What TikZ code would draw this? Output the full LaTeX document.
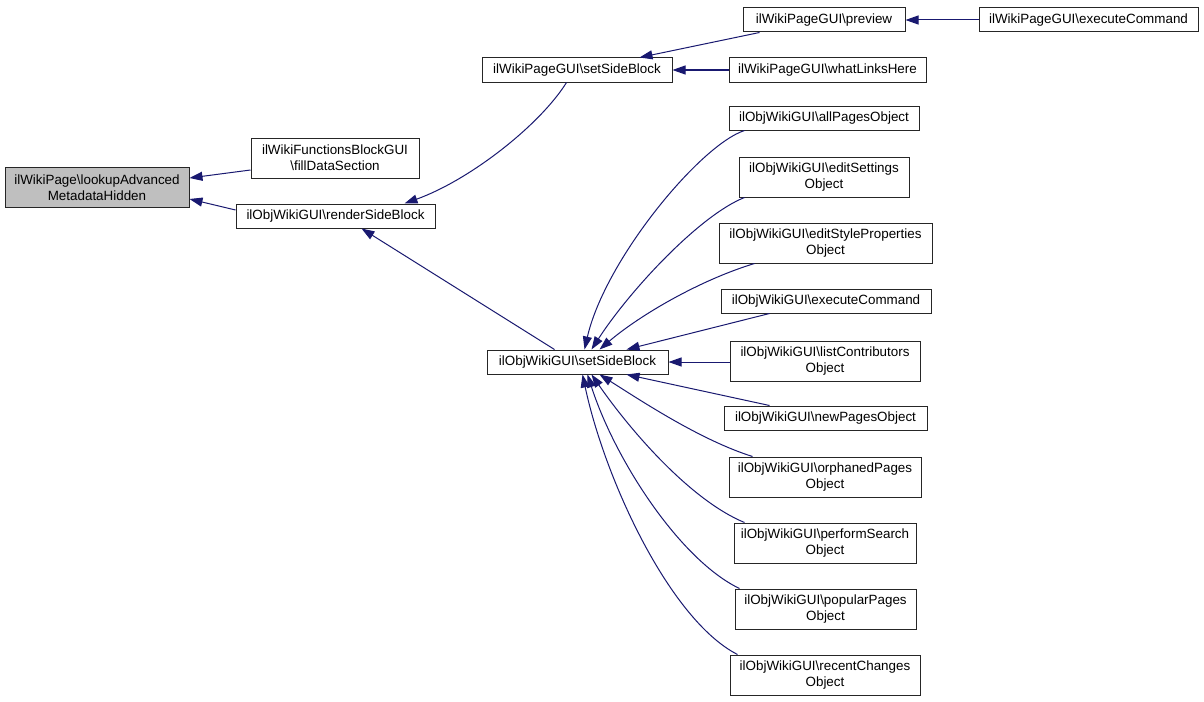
\documentclass[tikz,border=0pt]{standalone}
\usepackage{fontspec}
\setmainfont{Liberation Sans}
\usetikzlibrary{arrows.meta}
\definecolor{edgecol}{HTML}{191970}
\begin{document}
\begin{tikzpicture}[x=1pt,y=-1pt,
  box/.style={draw=black!85,line width=1pt,fill=white,inner sep=0pt,align=center,
    font=\fontsize{13.4}{16}\selectfont},
  b1/.style={box,minimum height=24pt},
  b2/.style={box,minimum height=40pt},
  edge/.style={draw=edgecol,line width=1pt,-{Triangle[length=13pt,width=9pt]}}]
\useasboundingbox[fill=white] (0,0) rectangle (1204,701);
% nodes
\node[b2,fill=black!25,minimum width=184pt] (look) at (97,187.5) {ilWikiPage\textbackslash lookupAdvanced\\MetadataHidden};
\node[b2,minimum width=168pt] (fill) at (335,158) {ilWikiFunctionsBlockGUI\\\textbackslash fillDataSection};
\node[b1,minimum width=199pt] (render) at (335.5,216) {ilObjWikiGUI\textbackslash renderSideBlock};
\node[b1,minimum width=190pt] (wsb) at (577,70) {ilWikiPageGUI\textbackslash setSideBlock};
\node[b1,minimum width=162pt] (prev) at (824,20) {ilWikiPageGUI\textbackslash preview};
\node[b1,minimum width=219pt] (wexec) at (1088.5,20) {ilWikiPageGUI\textbackslash executeCommand};
\node[b1,minimum width=197pt] (what) at (827.5,70) {ilWikiPageGUI\textbackslash whatLinksHere};
\node[b1,minimum width=181pt] (osb) at (577.5,362) {ilObjWikiGUI\textbackslash setSideBlock};
\node[b1,minimum width=190pt] (allp) at (824,118) {ilObjWikiGUI\textbackslash allPagesObject};
\node[b2,minimum width=170pt] (edset) at (824,177) {ilObjWikiGUI\textbackslash editSettings\\Object};
\node[b2,minimum width=213pt] (edsty) at (825.5,243) {ilObjWikiGUI\textbackslash editStyleProperties\\Object};
\node[b1,minimum width=210pt] (oexec) at (826,301) {ilObjWikiGUI\textbackslash executeCommand};
\node[b2,minimum width=190pt] (listc) at (825,361) {ilObjWikiGUI\textbackslash listContributors\\Object};
\node[b1,minimum width=203pt] (newp) at (825.5,418) {ilObjWikiGUI\textbackslash newPagesObject};
\node[b2,minimum width=192pt] (orph) at (825,477) {ilObjWikiGUI\textbackslash orphanedPages\\Object};
\node[b2,minimum width=182pt] (perf) at (825,543) {ilObjWikiGUI\textbackslash performSearch\\Object};
\node[b2,minimum width=181pt] (popu) at (825.5,609) {ilObjWikiGUI\textbackslash popularPages\\Object};
\node[b2,minimum width=190pt] (rece) at (825,675) {ilObjWikiGUI\textbackslash recentChanges\\Object};
% edges
\draw[edge] (fill.west |- 0,170) -- (look.east |- 0,178);
\draw[edge] (render.west |- 0,210) -- (look.east |- 0,199);
\draw[edge] ([xshift=85pt]wsb.south west) .. controls (540,125) and (470,180) .. ([xshift=169pt]render.north west);
\draw[edge] ([xshift=17pt]prev.south west) -- ([xshift=158pt]wsb.north west);
\draw[edge] (wexec.west) -- (prev.east);
\draw[edge] (what.west) -- (wsb.east);
\draw[edge] ([xshift=68pt]osb.north west) -- ([xshift=126pt]render.south west);
\draw[edge] ([xshift=16pt]allp.south west) .. controls (700,145) and (605,260) .. ([xshift=98pt]osb.north west);
\draw[edge] ([xshift=6pt]edset.south west) .. controls (700,215) and (630,290) .. ([xshift=105pt]osb.north west);
\draw[edge] ([xshift=36pt]edsty.south west) .. controls (700,280) and (640,315) .. ([xshift=113pt]osb.north west);
\draw[edge] ([xshift=49pt]oexec.south west) -- ([xshift=140pt]osb.north west);
\draw[edge] (listc.west |- osb.east) -- (osb.east);
\draw[edge] ([xshift=46pt]newp.north west) -- ([xshift=140pt]osb.south west);
\draw[edge] ([xshift=24pt]orph.north west) .. controls (700,440) and (640,400) .. ([xshift=113pt]osb.south west);
\draw[edge] ([xshift=11pt]perf.north west) .. controls (690,500) and (630,430) .. ([xshift=105pt]osb.south west);
\draw[edge] ([xshift=5pt]popu.north west) .. controls (680,560) and (615,460) .. ([xshift=101pt]osb.south west);
\draw[edge] ([xshift=8pt]rece.north west) .. controls (670,620) and (605,480) .. ([xshift=96pt]osb.south west);
\end{tikzpicture}
\end{document}
